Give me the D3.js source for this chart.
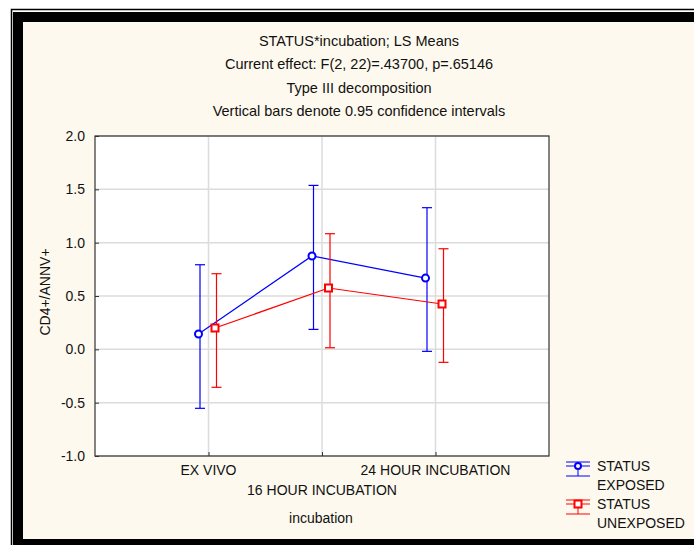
<!DOCTYPE html>
<html>
<head>
<meta charset="utf-8">
<title>STATUS*incubation; LS Means</title>
<script src="https://d3js.org/d3.v7.min.js"></script>
<style>
  body { margin: 0; background: #fff; }
  text { font-family: "Liberation Sans", Arial, sans-serif; fill: #111; }
</style>
</head>
<body>
<svg id="chart" width="694" height="545"></svg>
<script>
// data
var categories = ["EX VIVO", "16 HOUR INCUBATION", "24 HOUR INCUBATION"];
var groups = ["STATUS EXPOSED", "STATUS UNEXPOSED"];
var exposedMean = [0.144, 0.875, 0.668];
var exposedLow = [-0.553, 0.187, -0.019];
var exposedHigh = [0.793, 1.537, 1.328];
var unexposedMean = [0.200, 0.575, 0.425];
var unexposedLow = [-0.356, 0.015, -0.122];
var unexposedHigh = [0.709, 1.084, 0.943];
var yTicks = [-1.0, -0.5, 0.0, 0.5, 1.0, 1.5, 2.0];
var titleLines = ["STATUS*incubation; LS Means",
                  "Current effect: F(2, 22)=.43700, p=.65146",
                  "Type III decomposition",
                  "Vertical bars denote 0.95 confidence intervals"];

var svg = d3.select("#chart");

// window frame
svg.append("rect").attr("x", 11.5).attr("y", 9.5).attr("width", 700).attr("height", 560)
  .attr("fill", "none").attr("stroke", "#000").attr("stroke-width", 1.5);
svg.append("rect").attr("x", 13).attr("y", 12).attr("width", 700).attr("height", 560).attr("fill", "#000");
svg.append("rect").attr("x", 23).attr("y", 22).attr("width", 700).attr("height", 517).attr("fill", "#fef9ee");

// titles
svg.selectAll("text.title").data(titleLines).enter().append("text")
  .attr("class", "title").attr("x", 359).attr("y", function(d, i) { return 46 + i * 23.3; })
  .attr("text-anchor", "middle").style("font-size", "14.5px").text(function(d) { return d; });

var pLeft = 95, pTop = 136, pRight = 549, pBottom = 456;
var x = d3.scalePoint().domain(categories).range([pLeft, pRight]).padding(1);
var y = d3.scaleLinear().domain([-1, 2]).range([pBottom, pTop]);

svg.append("rect").attr("x", pLeft).attr("y", pTop).attr("width", pRight - pLeft).attr("height", pBottom - pTop)
  .attr("fill", "#fff");

// grid
svg.append("g").selectAll("line").data(yTicks).enter().append("line")
  .attr("x1", pLeft).attr("x2", pRight).attr("y1", function(d) { return y(d); }).attr("y2", function(d) { return y(d); })
  .attr("stroke", "#dcdcdc").attr("stroke-width", 1.5);
svg.append("g").selectAll("line").data(categories).enter().append("line")
  .attr("y1", pTop).attr("y2", pBottom).attr("x1", function(d) { return x(d); }).attr("x2", function(d) { return x(d); })
  .attr("stroke", "#dcdcdc").attr("stroke-width", 1.5);

// axes
var yAxis = svg.append("g").attr("transform", "translate(" + pLeft + ",0)")
  .call(d3.axisLeft(y).tickValues(yTicks).tickFormat(function(d) { return d.toFixed(1); }).tickSize(-4).tickPadding(10));
yAxis.select(".domain").remove();
yAxis.selectAll("line").attr("stroke", "#333");
yAxis.selectAll("text").style("font-size", "14px").style("font-family", "Liberation Sans, Arial, sans-serif").attr("fill", "#111");

var xAxis = svg.append("g").attr("transform", "translate(0," + pBottom + ")")
  .call(d3.axisBottom(x).tickSize(-4).tickFormat(""));
xAxis.select(".domain").remove();
xAxis.selectAll("line").attr("stroke", "#333");

svg.append("g").selectAll("text").data(categories).enter().append("text")
  .attr("x", function(d) { return x(d); })
  .attr("y", function(d, i) { return i === 1 ? 495 : 475; })
  .attr("text-anchor", "middle").style("font-size", "14px").text(function(d) { return d; });

svg.append("rect").attr("x", pLeft).attr("y", pTop).attr("width", pRight - pLeft).attr("height", pBottom - pTop)
  .attr("fill", "none").attr("stroke", "#333").attr("stroke-width", 1.2);

svg.append("text").attr("x", 321).attr("y", 523).attr("text-anchor", "middle")
  .style("font-size", "14px").text("incubation");
svg.append("text").attr("transform", "translate(50,292) rotate(-90)").attr("text-anchor", "middle")
  .style("font-size", "14px").text("CD4+/ANNV+");

// series
var series = [
  { name: groups[0], color: "#0000ff", shape: "circle", dx: -10, mean: exposedMean, lo: exposedLow, hi: exposedHigh },
  { name: groups[1], color: "#ff0000", shape: "square", dx: 6.5, mean: unexposedMean, lo: unexposedLow, hi: unexposedHigh }
];

series.forEach(function(s) {
  var g = svg.append("g");
  var pts = categories.map(function(c, i) {
    return { x: x(c) + s.dx, m: s.mean[i], lo: s.lo[i], hi: s.hi[i] };
  });
  g.selectAll("line.bar").data(pts).enter().append("line")
    .attr("x1", function(d) { return d.x + 1.5; }).attr("x2", function(d) { return d.x + 1.5; })
    .attr("y1", function(d) { return y(d.lo); }).attr("y2", function(d) { return y(d.hi); })
    .attr("stroke", s.color).attr("stroke-width", 1.2);
  ["lo", "hi"].forEach(function(k) {
    g.selectAll(null).data(pts).enter().append("line")
      .attr("x1", function(d) { return d.x + 1.5 - 5; }).attr("x2", function(d) { return d.x + 1.5 + 5; })
      .attr("y1", function(d) { return y(d[k]); }).attr("y2", function(d) { return y(d[k]); })
      .attr("stroke", s.color).attr("stroke-width", 1.2);
  });
  g.append("path").datum(pts)
    .attr("d", d3.line().x(function(d) { return d.x; }).y(function(d) { return y(d.m); }))
    .attr("fill", "none").attr("stroke", s.color).attr("stroke-width", 1.2);
  if (s.shape === "circle") {
    g.selectAll("circle").data(pts).enter().append("circle")
      .attr("cx", function(d) { return d.x; }).attr("cy", function(d) { return y(d.m); }).attr("r", 3.5)
      .attr("fill", "#fff").attr("stroke", s.color).attr("stroke-width", 2);
  } else {
    g.selectAll("rect").data(pts).enter().append("rect")
      .attr("x", function(d) { return d.x - 3.5; }).attr("y", function(d) { return y(d.m) - 3.5; })
      .attr("width", 7).attr("height", 7)
      .attr("fill", "#fff").attr("stroke", s.color).attr("stroke-width", 2);
  }
});

// legend
series.forEach(function(s, i) {
  var cy = 466 + i * 38;
  var g = svg.append("g").attr("transform", "translate(578," + cy + ")");
  g.append("line").attr("x1", -12).attr("x2", 12).attr("y1", -4).attr("y2", -4).attr("stroke", s.color);
  g.append("line").attr("x1", -12).attr("x2", 12).attr("y1", 0).attr("y2", 0).attr("stroke", s.color);
  g.append("line").attr("x1", -12).attr("x2", 12).attr("y1", 10).attr("y2", 10).attr("stroke", s.color);
  g.append("line").attr("x1", 0).attr("x2", 0).attr("y1", -4).attr("y2", 10).attr("stroke", s.color);
  if (s.shape === "circle") {
    g.append("circle").attr("r", 3).attr("fill", "#fff").attr("stroke", s.color).attr("stroke-width", 2);
  } else {
    g.append("rect").attr("x", -3.5).attr("y", -3.5).attr("width", 7).attr("height", 7)
      .attr("fill", "#fff").attr("stroke", s.color).attr("stroke-width", 2);
  }
  var words = s.name.split(" ");
  g.append("text").attr("x", 19).attr("y", 5).style("font-size", "14px").text(words[0]);
  g.append("text").attr("x", 19).attr("y", 24).style("font-size", "14px").text(words[1]);
});
</script>
</body>
</html>
